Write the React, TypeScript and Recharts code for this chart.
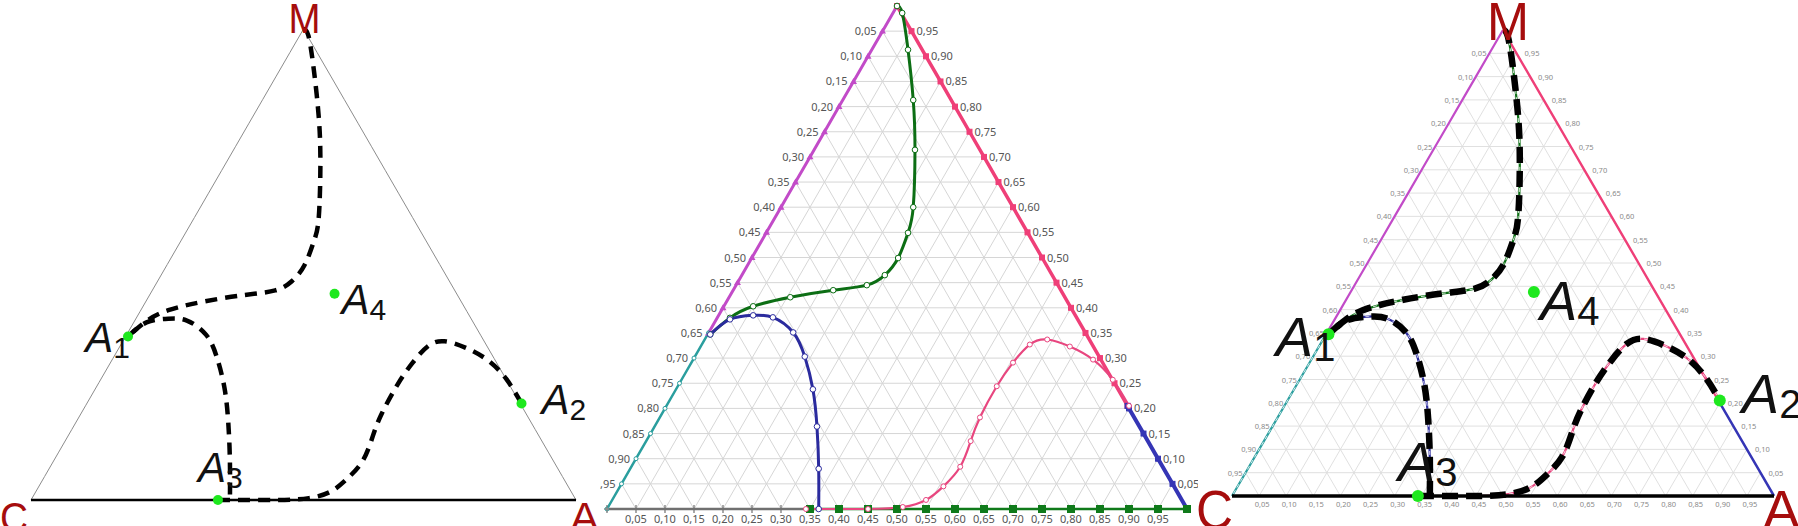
import React from "react";
import { ComposedChart, Line, Scatter, XAxis, YAxis } from "recharts";

// ternary plane: C at (0,0), A at (1,0), M at (0.5,1); y is the M share
const TICKS = [0.05, 0.1, 0.15, 0.2, 0.25, 0.3, 0.35, 0.4, 0.45, 0.5, 0.55, 0.6, 0.65, 0.7, 0.75, 0.8, 0.85, 0.9, 0.95];
const TICK_LABELS = ["0,05", "0,10", "0,15", "0,20", "0,25", "0,30", "0,35", "0,40", "0,45", "0,50", "0,55", "0,60", "0,65", "0,70", "0,75", "0,80", "0,85", "0,90", "0,95"];

const VERTICES = [
  { name: "C", x: 0, y: 0 },
  { name: "A", x: 1, y: 0 },
  { name: "M", x: 0.5, y: 1 },
];

const POINTS = [
  { name: "A1", x: 0.178, y: 0.347 },
  { name: "A2", x: 0.9, y: 0.205 },
  { name: "A3", x: 0.343, y: 0 },
  { name: "A4", x: 0.557, y: 0.438 },
];

// where the coloured edge pieces change colour
const LEFT_SPLIT = 0.35; // M share on C–M edge
const RIGHT_SPLIT = 0.205; // M share on A–M edge
const BOTTOM_SPLIT = 0.35; // A share on C–A edge

const UPPER_CURVE = [
  { x: 0.5, y: 1.0 },
  { x: 0.509, y: 0.986 },
  { x: 0.519, y: 0.913 },
  { x: 0.528, y: 0.813 },
  { x: 0.531, y: 0.714 },
  { x: 0.528, y: 0.6 },
  { x: 0.519, y: 0.549 },
  { x: 0.502, y: 0.499 },
  { x: 0.479, y: 0.465 },
  { x: 0.448, y: 0.445 },
  { x: 0.39, y: 0.435 },
  { x: 0.316, y: 0.421 },
  { x: 0.252, y: 0.403 },
  { x: 0.212, y: 0.38 },
  { x: 0.178, y: 0.347 },
];

const LOOP_CURVE = [
  { x: 0.178, y: 0.347 },
  { x: 0.212, y: 0.377 },
  { x: 0.252, y: 0.385 },
  { x: 0.286, y: 0.381 },
  { x: 0.321, y: 0.351 },
  { x: 0.341, y: 0.303 },
  { x: 0.355, y: 0.238 },
  { x: 0.362, y: 0.164 },
  { x: 0.365, y: 0.08 },
  { x: 0.365, y: 0 },
];

const HUMP_CURVE = [
  { x: 0.343, y: 0 },
  { x: 0.45, y: 0 },
  { x: 0.51, y: 0.004 },
  { x: 0.55, y: 0.018 },
  { x: 0.58, y: 0.045 },
  { x: 0.609, y: 0.084 },
  { x: 0.627, y: 0.135 },
  { x: 0.643, y: 0.182 },
  { x: 0.672, y: 0.244 },
  { x: 0.7, y: 0.291 },
  { x: 0.729, y: 0.327 },
  { x: 0.759, y: 0.337 },
  { x: 0.798, y: 0.323 },
  { x: 0.838, y: 0.297 },
  { x: 0.872, y: 0.257 },
  { x: 0.9, y: 0.205 },
];

const FONT = "'Liberation Sans', Arial, sans-serif";
const TICK_FONT = "'Noto Sans', 'Open Sans', sans-serif";
const DARK_RED = "#a60d0d";
const DOT_GREEN = "#1ee81e";

type Variant = "sketch" | "plot" | "overlay";

const LAYOUT = {
  sketch: { left: 0, width: 600, margin: { top: 29, right: 24, bottom: 26, left: 31 } },
  plot: { left: 600, width: 598, margin: { top: 6, right: 11, bottom: 17, left: 7 } },
  overlay: { left: 1198, width: 600, margin: { top: 30, right: 24, bottom: 30, left: 34 } },
};

const VERTEX_STYLE: any = {
  sketch: {
    M: { anchor: "middle", dx: 1, dy: 4, size: 42, len: 32 },
    C: { anchor: "start", dx: -31, dy: 32, size: 42, len: 28 },
    A: { anchor: "start", dx: -6, dy: 32, size: 42, len: 29 },
  },
  overlay: {
    M: { anchor: "middle", dx: 5, dy: 10, size: 54, len: 42 },
    C: { anchor: "start", dx: -36, dy: 33, size: 56, len: 37 },
    A: { anchor: "start", dx: -11, dy: 33, size: 56, len: 37 },
  },
};

const POINT_STYLE: any = {
  sketch: {
    size: 42, sub: 30, subDy: 6, r: 5,
    A1: { anchor: "end", dx: 2, dy: 15 },
    A2: { anchor: "start", dx: 20, dy: 11 },
    A3: { anchor: "start", dx: -20, dy: -18 },
    A4: { anchor: "start", dx: 7, dy: 20 },
  },
  overlay: {
    size: 56, sub: 40, subDy: 5, r: 6,
    A1: { anchor: "end", dx: 7, dy: 22 },
    A2: { anchor: "start", dx: 22, dy: 13 },
    A3: { anchor: "start", dx: -20, dy: -15 },
    A4: { anchor: "start", dx: 6, dy: 28 },
  },
};

const TICK_STYLE: any = {
  plot: { size: 11, color: "#555", left: [-6, 4], right: [5, 4], bottom: [0, 14] },
  overlay: { size: 7.5, color: "#8a8a8a", left: [-3, 3], right: [8, 3], bottom: [3, 11] },
};

// edge pieces, built from the tick positions
const leftEdge = (lo: number, hi: number) => [
  { x: hi / 2, y: hi },
  ...TICKS.filter((t) => t > lo && t < hi).reverse().map((t) => ({ x: t / 2, y: t })),
  { x: lo / 2, y: lo },
];
const rightEdge = (lo: number, hi: number) => [
  { x: 1 - hi / 2, y: hi },
  ...TICKS.filter((t) => t > lo && t < hi).reverse().map((t) => ({ x: 1 - t / 2, y: t })),
  { x: 1 - lo / 2, y: lo },
];
const bottomEdge = (lo: number, hi: number) => [
  { x: lo, y: 0 },
  ...TICKS.filter((t) => t > lo && t < hi).map((t) => ({ x: t, y: 0 })),
  { x: hi, y: 0 },
];

const leftTicks = TICKS.map((t, i) => ({ x: (1 - t) / 2, y: 1 - t, label: TICK_LABELS[i], side: "left" }));
const rightTicks = TICKS.map((t, i) => ({ x: 1 - t / 2, y: t, label: TICK_LABELS[i], side: "right" }));
const bottomTicks = TICKS.map((t, i) => ({ x: t, y: 0, label: TICK_LABELS[i], side: "bottom" }));

const triangleDot = (color: string, s: number) => (p: any) => (
  <path key={`t${p.index}`} d={`M${p.cx},${p.cy - s}L${p.cx + s},${p.cy + s * 0.7}L${p.cx - s},${p.cy + s * 0.7}Z`} fill={color} />
);
const squareDot = (color: string, s: number, fill?: string) => (p: any) => (
  <rect key={`s${p.index}`} x={p.cx - s} y={p.cy - s} width={s * 2} height={s * 2} fill={fill || color} stroke={color} strokeWidth={1} />
);
const openDot = (color: string, r: number) => (p: any) => (
  <circle key={`c${p.index}`} cx={p.cx} cy={p.cy} r={r} fill="#fff" stroke={color} strokeWidth={1} />
);
const tickDot = (color: string) => (p: any) => (
  <path key={`k${p.index}`} d={`M${p.cx},${p.cy - 4}V${p.cy + 4}M${p.cx - 3},${p.cy}H${p.cx + 3}`} stroke={color} strokeWidth={1.2} />
);

function line(key: string, data: any[], stroke: string, width: number, extra: any = {}) {
  return (
    <Line
      key={key}
      data={data}
      dataKey="y"
      type="linear"
      stroke={stroke}
      strokeWidth={width}
      dot={false}
      activeDot={false}
      isAnimationActive={false}
      {...extra}
    />
  );
}

function gridLines(color: string, width: number) {
  return TICKS.flatMap((t, i) => [
    line(`gh${i}`, [{ x: t / 2, y: t }, { x: 1 - t / 2, y: t }], color, width),
    line(`ga${i}`, [{ x: t, y: 0 }, { x: (1 + t) / 2, y: 1 - t }], color, width),
    line(`gc${i}`, [{ x: 1 - t, y: 0 }, { x: (1 - t) / 2, y: 1 - t }], color, width),
  ]);
}

function tickLabels(variant: Variant) {
  const st = TICK_STYLE[variant];
  const shape = (p: any) => {
    const side = p.payload.side;
    const [dx, dy] = st[side];
    const anchor = side === "left" ? "end" : side === "right" ? "start" : "middle";
    return (
      <text x={p.cx + dx} y={p.cy + dy} textAnchor={anchor} fontSize={st.size} fontFamily={TICK_FONT} fill={st.color}>
        {p.payload.label}
      </text>
    );
  };
  return [
    <Scatter key="tl" data={leftTicks} shape={shape} isAnimationActive={false} />,
    <Scatter key="tr" data={rightTicks} shape={shape} isAnimationActive={false} />,
    <Scatter key="tb" data={bottomTicks} shape={shape} isAnimationActive={false} />,
  ];
}

function vertexLabels(variant: Variant) {
  const st = VERTEX_STYLE[variant];
  const shape = (p: any) => {
    const o = st[p.payload.name];
    return (
      <text
        x={p.cx + o.dx}
        y={p.cy + o.dy}
        textAnchor={o.anchor}
        fontSize={o.size}
        fontFamily={FONT}
        fill={DARK_RED}
        textLength={o.len}
        lengthAdjust="spacingAndGlyphs"
      >
        {p.payload.name}
      </text>
    );
  };
  return <Scatter key="vx" data={VERTICES} shape={shape} isAnimationActive={false} />;
}

function pointMarks(variant: Variant) {
  const st = POINT_STYLE[variant];
  const shape = (p: any) => {
    const o = st[p.payload.name];
    return (
      <g>
        <circle cx={p.cx} cy={p.cy} r={st.r} fill={DOT_GREEN} />
        <text x={p.cx + o.dx} y={p.cy + o.dy} textAnchor={o.anchor} fontFamily={FONT} fontSize={st.size} fill="#111">
          <tspan fontStyle="italic">{p.payload.name[0]}</tspan>
          <tspan fontSize={st.sub} dy={st.subDy}>
            {p.payload.name.slice(1)}
          </tspan>
        </text>
      </g>
    );
  };
  return <Scatter key="pts" data={POINTS} shape={shape} isAnimationActive={false} />;
}

const PURPLE = "#c24bc8";
const TEAL = "#2a9e9e";
const PINK = "#ef3f78";
const BLUE = "#3535b5";
const EDGE_GREEN = "#0f7a1a";
const GRAY = "#707070";
const CURVE_GREEN = "#0c6e14";
const CURVE_BLUE = "#2b2b9e";
const CURVE_PINK = "#e8467f";

function TernaryPanel({ variant }: { variant: Variant }) {
  const lay = LAYOUT[variant];
  const items: React.ReactNode[] = [];

  if (variant === "sketch") {
    items.push(line("el", leftEdge(0, 1), "#8c8c8c", 1));
    items.push(line("er", rightEdge(0, 1), "#8c8c8c", 1));
    items.push(line("eb", bottomEdge(0, 1), "#000", 2.5));
    const dash = { type: "natural", strokeDasharray: "12 8" };
    items.push(line("bu", UPPER_CURVE, "#000", 4.5, dash));
    items.push(line("bl", LOOP_CURVE, "#000", 4.5, dash));
    items.push(line("bh", HUMP_CURVE, "#000", 4.5, dash));
    items.push(pointMarks(variant));
    items.push(vertexLabels(variant));
  }

  if (variant === "plot") {
    items.push(...gridLines("#d6d6d6", 1));
    items.push(line("ep", leftEdge(LEFT_SPLIT, 1), PURPLE, 3, { dot: triangleDot(PURPLE, 3.5) }));
    items.push(line("et", leftEdge(0, LEFT_SPLIT), TEAL, 2.5, { dot: openDot(TEAL, 2) }));
    items.push(line("epk", rightEdge(RIGHT_SPLIT, 1), PINK, 3.5, { dot: squareDot(PINK, 2.5) }));
    items.push(line("eb", rightEdge(0, RIGHT_SPLIT), BLUE, 4, { dot: squareDot(BLUE, 2.5) }));
    items.push(line("eg", bottomEdge(0, BOTTOM_SPLIT), GRAY, 2.5, { dot: tickDot(GRAY) }));
    items.push(line("egr", bottomEdge(BOTTOM_SPLIT, 1), EDGE_GREEN, 2.5, { dot: squareDot(EDGE_GREEN, 3.5) }));
    items.push(line("cu", UPPER_CURVE, CURVE_GREEN, 3, { type: "natural", dot: openDot(CURVE_GREEN, 2.8) }));
    items.push(line("cl", LOOP_CURVE, CURVE_BLUE, 3, { type: "natural", dot: openDot(CURVE_BLUE, 2.8) }));
    items.push(line("ch", HUMP_CURVE, CURVE_PINK, 2.2, { type: "natural", dot: openDot(CURVE_PINK, 2.5) }));
    items.push(...tickLabels(variant));
  }

  if (variant === "overlay") {
    items.push(...gridLines("#dcdcdc", 0.9));
    items.push(line("ep", leftEdge(LEFT_SPLIT, 1), PURPLE, 2.2));
    items.push(line("et", leftEdge(0, LEFT_SPLIT), TEAL, 2.2));
    items.push(line("etw", leftEdge(0, LEFT_SPLIT), "#fff", 0.8, { strokeDasharray: "4 3" }));
    items.push(line("epk", rightEdge(RIGHT_SPLIT, 1), PINK, 2.4));
    items.push(line("eb", rightEdge(0, RIGHT_SPLIT), BLUE, 2.5));
    items.push(line("egr", bottomEdge(0, 1), EDGE_GREEN, 2, { strokeDasharray: "5 4" }));
    items.push(line("cu", UPPER_CURVE, CURVE_GREEN, 2.2, { type: "natural" }));
    items.push(line("cl", LOOP_CURVE, CURVE_BLUE, 2.2, { type: "natural" }));
    items.push(line("ch", HUMP_CURVE, CURVE_PINK, 2.2, { type: "natural" }));
    items.push(line("cuw", UPPER_CURVE, "#fff", 0.8, { type: "natural", strokeDasharray: "4 3" }));
    items.push(line("clw", LOOP_CURVE, "#fff", 0.8, { type: "natural", strokeDasharray: "4 3" }));
    items.push(line("chw", HUMP_CURVE, "#fff", 0.8, { type: "natural", strokeDasharray: "4 3" }));
    items.push(...tickLabels(variant));
    items.push(line("ebk", bottomEdge(0, 1), "#000", 3.5));
    const dash = { type: "natural", strokeDasharray: "16 8" };
    items.push(line("bu", UPPER_CURVE, "#000", 6.5, dash));
    items.push(line("bl", LOOP_CURVE, "#000", 6.5, dash));
    items.push(line("bh", HUMP_CURVE, "#000", 6.5, dash));
    items.push(pointMarks(variant));
    items.push(vertexLabels(variant));
  }

  return (
    <div style={{ position: "absolute", left: lay.left, top: 0 }}>
      <ComposedChart width={lay.width} height={526} margin={lay.margin}>
        <XAxis type="number" dataKey="x" domain={[0, 1]} hide />
        <YAxis type="number" dataKey="y" domain={[0, 1]} hide />
        {items}
      </ComposedChart>
    </div>
  );
}

export default function App() {
  return (
    <div style={{ position: "absolute", left: 0, top: 0, width: 1798, height: 526, background: "#fff", overflow: "hidden" }}>
      <TernaryPanel variant="sketch" />
      <TernaryPanel variant="plot" />
      <TernaryPanel variant="overlay" />
    </div>
  );
}
